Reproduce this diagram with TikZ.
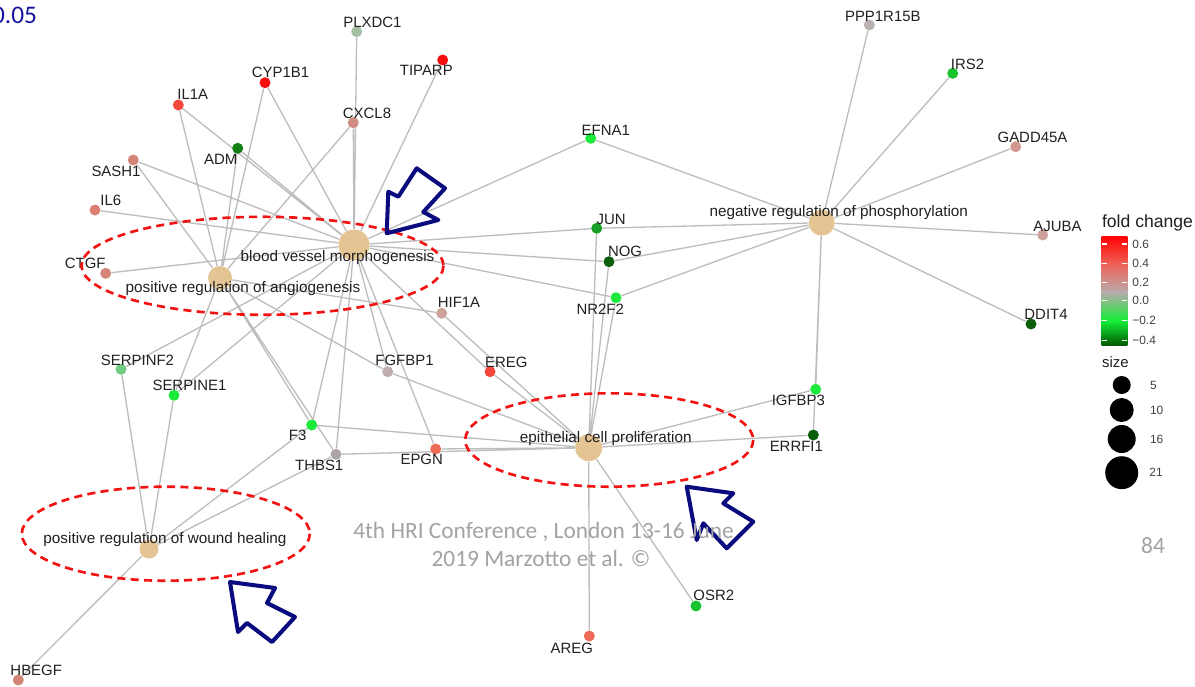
\documentclass[tikz,border=0pt]{standalone}
\usepackage{fontspec}
\setmainfont{Liberation Sans}
\newfontfamily\slidefont{Carlito}

% colours
\definecolor{termtan}{HTML}{E5C494}
\definecolor{linkgrey}{HTML}{BDBDBD}
\definecolor{labelgrey}{HTML}{202020}
\definecolor{ringred}{HTML}{F21212}
\definecolor{navyink}{HTML}{0B0B80}
\definecolor{slidegrey}{HTML}{A3A3A3}
\definecolor{pblue}{HTML}{1414A0}
\definecolor{redhi}{HTML}{F50F0F}
\definecolor{redmd}{HTML}{F3483A}
\definecolor{redlo}{HTML}{EE6A58}
\definecolor{rose}{HTML}{D58478}
\definecolor{rosegrey}{HTML}{CFA19B}
\definecolor{flatgrey}{HTML}{BAB0B0}
\definecolor{sage}{HTML}{A3C0A3}
\definecolor{ltgreen}{HTML}{70CC80}
\definecolor{brightgreen}{HTML}{1BEA3A}
\definecolor{green}{HTML}{18C42E}
\definecolor{midgreen}{HTML}{18A02A}
\definecolor{dkgreen}{HTML}{137F13}
\definecolor{deepgreen}{HTML}{0B5F0B}
% colour bar stops
\definecolor{fctop}{RGB}{255,0,0}
\definecolor{fcsalmon}{RGB}{238,96,86}
\definecolor{fcgrey}{RGB}{184,170,170}
\definecolor{fcgreen}{RGB}{20,238,56}
\definecolor{fcdark}{RGB}{0,90,0}

\pgfdeclarelayer{links}
\pgfsetlayers{links,main}

\tikzset{
  gene/.style={circle, inner sep=0pt, minimum size=0.22cm},
  term/.style={circle, inner sep=0pt, fill=termtan},
  glabel/.style={font=\fontsize{8.5}{10}\selectfont, text=labelgrey, inner sep=0pt},
  tlabel/.style={font=\fontsize{8.7}{10}\selectfont, text=labelgrey, inner sep=0pt},
  link/.style={draw=linkgrey, line width=0.75pt},
  ring/.style={draw=ringred, dash pattern=on 4.6pt off 3pt, line width=1.5pt},
  pointer/.style={draw=navyink, line width=2.3pt, line join=round},
  legtext/.style={font=\fontsize{6.8}{8}\selectfont, text=labelgrey!85, inner sep=0pt},
  slide/.style={font=\slidefont\fontsize{13.3}{15}\selectfont, text=slidegrey, inner sep=0pt}
}

\begin{document}
\begin{tikzpicture}[x=0.02cm, y=-0.02cm]
\useasboundingbox (0,0) rectangle (1195,686);

% GO terms
\node[term, minimum size=0.62cm] (bvm) at (354,245) {};
\node[term, minimum size=0.48cm] (pra) at (220,278) {};
\node[term, minimum size=0.52cm] (nrp) at (821.7,222.7) {};
\node[term, minimum size=0.54cm] (ecp) at (588.7,447.7) {};
\node[term, minimum size=0.38cm] (prw) at (149,549) {};

% genes
\node[gene, fill=sage] (PLXDC1) at (356.7,31.7) {};
\node[gene, fill=redhi] (TIPARP) at (442.7,60) {};
\node[gene, fill=redhi] (CYP1B1) at (265,82.7) {};
\node[gene, fill=redmd] (IL1A) at (178.3,105) {};
\node[gene, fill=rose!85!flatgrey] (CXCL8) at (353.3,122.7) {};
\node[gene, fill=dkgreen] (ADM) at (237.7,148.3) {};
\node[gene, fill=rose] (SASH1) at (133.3,160) {};
\node[gene, fill=rose!80!redlo] (IL6) at (95,210) {};
\node[gene, fill=rose] (CTGF) at (105.7,273.3) {};
\node[gene, fill=rosegrey] (HIF1A) at (441.7,313.3) {};
\node[gene, fill=brightgreen] (EFNA1) at (590.7,138.3) {};
\node[gene, fill=midgreen] (JUN) at (596.7,228.3) {};
\node[gene, fill=deepgreen] (NOG) at (609,261.7) {};
\node[gene, fill=brightgreen] (NR2F2) at (616,297.7) {};
\node[gene, fill=flatgrey] (PPP1R15B) at (869.3,25) {};
\node[gene, fill=green] (IRS2) at (952.7,73.3) {};
\node[gene, fill=rosegrey!70!rose] (GADD45A) at (1015.7,146.7) {};
\node[gene, fill=rosegrey] (AJUBA) at (1042.7,235) {};
\node[gene, fill=deepgreen] (DDIT4) at (1031,324) {};
\node[gene, fill=ltgreen] (SERPINF2) at (121,369.3) {};
\node[gene, fill=brightgreen] (SERPINE1) at (174,395.3) {};
\node[gene, fill=flatgrey!80!rosegrey] (FGFBP1) at (387.7,371.7) {};
\node[gene, fill=brightgreen] (F3) at (311.7,425) {};
\node[gene, fill=flatgrey!80!gray] (THBS1) at (336,454.3) {};
\node[gene, fill=redlo] (EPGN) at (435.7,449) {};
\node[gene, fill=rose] (HBEGF) at (18.3,680) {};
\node[gene, fill=redmd] (EREG) at (490,371.7) {};
\node[gene, fill=brightgreen] (IGFBP3) at (815.7,389.3) {};
\node[gene, fill=deepgreen] (ERRFI1) at (813.3,435) {};
\node[gene, fill=green] (OSR2) at (696,606) {};
\node[gene, fill=redlo] (AREG) at (589.3,636) {};

% links
\begin{pgfonlayer}{links}
\fill[white] (0,0) rectangle (1195,686);
\draw[link] (bvm) -- (PLXDC1) (bvm) -- (CXCL8) (bvm) -- (TIPARP) (bvm) -- (CYP1B1)
  (bvm) -- (IL1A) (bvm) -- (ADM) (bvm) -- (SASH1) (bvm) -- (IL6) (bvm) -- (CTGF)
  (bvm) -- (EFNA1) (bvm) -- (JUN) (bvm) -- (NOG) (bvm) -- (NR2F2) (bvm) -- (EREG)
  (bvm) -- (FGFBP1) (bvm) -- (EPGN) (bvm) -- (F3) (bvm) -- (THBS1)
  (bvm) -- (SERPINE1) (bvm) -- (SERPINF2);
\draw[link] (pra) -- (IL1A) (pra) -- (CYP1B1) (pra) -- (ADM) (pra) -- (CXCL8)
  (pra) -- (SASH1) (pra) -- (SERPINE1) (pra) -- (F3) (pra) -- (THBS1)
  (pra) -- (HIF1A) (pra) -- (FGFBP1);
\draw[link] (ecp) -- (JUN) (ecp) -- (NOG) (ecp) -- (NR2F2) (ecp) -- (HIF1A)
  (ecp) -- (EREG) (ecp) -- (FGFBP1) (ecp) -- (F3) (ecp) -- (THBS1) (ecp) -- (EPGN)
  (ecp) -- (IGFBP3) (ecp) -- (ERRFI1) (ecp) -- (OSR2) (ecp) -- (AREG);
\draw[link] (nrp) -- (EFNA1) (nrp) -- (JUN) (nrp) -- (NOG) (nrp) -- (NR2F2)
  (nrp) -- (PPP1R15B) (nrp) -- (IRS2) (nrp) -- (GADD45A) (nrp) -- (AJUBA)
  (nrp) -- (DDIT4) (nrp) -- (IGFBP3) (nrp) -- (ERRFI1);
\draw[link] (prw) -- (SERPINF2) (prw) -- (SERPINE1) (prw) -- (F3) (prw) -- (THBS1)
  (prw) -- (HBEGF);
\end{pgfonlayer}

% gene labels
\node[glabel] (tPLXDC1) at (372.5,22.7) {PLXDC1};
\node[glabel] (tTIPARP) at (426.3,70) {TIPARP};
\node[glabel] (tCYP1B1) at (280.5,72.7) {CYP1B1};
\node[glabel] (tIL1A) at (192.8,94.3) {IL1A};
\node[glabel] (tCXCL8) at (367,113.3) {CXCL8};
\node[glabel] (tADM) at (220.8,159) {ADM};
\node[glabel] (tSASH1) at (116,171.7) {SASH1};
\node[glabel] (tIL6) at (110.8,200.7) {IL6};
\node[glabel] (tCTGF) at (85.2,263.3) {CTGF};
\node[glabel] (tHIF1A) at (459,302.5) {HIF1A};
\node[glabel] (tEFNA1) at (605.8,130) {EFNA1};
\node[glabel] (tJUN) at (611.2,219) {JUN};
\node[glabel] (tNOG) at (625,251.7) {NOG};
\node[glabel] (tNR2F2) at (600.2,309.3) {NR2F2};
\node[glabel] (tPPP1R15B) at (882.8,16) {PPP1R15B};
\node[glabel] (tIRS2) at (967.5,64.3) {IRS2};
\node[glabel] (tGADD45A) at (1032.5,137.7) {GADD45A};
\node[glabel] (tAJUBA) at (1057.5,226.7) {AJUBA};
\node[glabel] (tDDIT4) at (1046,314.3) {DDIT4};
\node[glabel] (tSERPINF2) at (137.5,360) {SERPINF2};
\node[glabel] (tSERPINE1) at (189.5,385) {SERPINE1};
\node[glabel] (tFGFBP1) at (404.5,360.7) {FGFBP1};
\node[glabel] (tF3) at (297.7,435) {F3};
\node[glabel] (tTHBS1) at (319.2,465.7) {THBS1};
\node[glabel] (tEPGN) at (421.7,459) {EPGN};
\node[glabel] (tHBEGF) at (36.2,670) {HBEGF};
\node[glabel] (tEREG) at (506.3,362.3) {EREG};
\node[glabel] (tIGFBP3) at (798.3,400) {IGFBP3};
\node[glabel] (tERRFI1) at (796.3,446) {ERRFI1};
\node[glabel] (tOSR2) at (713.8,595.7) {OSR2};
\node[glabel] (tAREG) at (571.7,648.3) {AREG};

% term labels
\node[tlabel] (tbvm) at (337.5,257.7) {blood vessel morphogenesis};
\node[tlabel] (tpra) at (243,289) {positive regulation of angiogenesis};
\node[tlabel] (tnrp) at (838.8,212.3) {negative regulation of phosphorylation};
\node[tlabel] (tecp) at (605.8,438.3) {epithelial cell proliferation};
\node[tlabel] (tprw) at (165,539.3) {positive regulation of wound healing};

% dashed rings
\draw[ring] (262.5,265.8) ellipse [x radius=181, y radius=49];
\draw[ring] (609.2,440) ellipse [x radius=144, y radius=46.7];
\draw[ring] (165.8,533.7) ellipse [x radius=144, y radius=47];

% hand drawn arrows
\draw[pointer] (386.7,233.3) -- (388.3,191.7) -- (398.3,196.7) -- (416.7,168.3)
  -- (445,188.3) -- (423.3,212) -- (438.3,220) -- cycle;
\draw[pointer] (686.7,486.7) -- (696.7,540) -- (703.3,523.3) -- (726.7,548.3)
  -- (753.3,521.7) -- (723.3,503.3) -- (733.3,493.3) -- cycle;
\draw[pointer] (230,582) -- (238,632) -- (247,623) -- (272,642)
  -- (295,617) -- (267,603) -- (275,588) -- cycle;

% legend: fold change
\node[font=\fontsize{10}{12}\selectfont, text=labelgrey, inner sep=0pt, anchor=west] (fctitle) at (1101.7,222.7) {fold change};
\shade[top color=fctop, bottom color=fcsalmon] (1101.7,236) rectangle (1127.3,263.3);
\shade[top color=fcsalmon, bottom color=fcgrey] (1101.7,263.3) rectangle (1127.3,292);
\shade[top color=fcgrey, bottom color=fcgreen] (1101.7,292) rectangle (1127.3,320.7);
\shade[top color=fcgreen, bottom color=fcdark] (1101.7,320.7) rectangle (1127.3,345);
\draw[white, line width=0.6pt]
  (1101.7,244) -- +(5,0) (1127.3,244) -- +(-5,0)
  (1101.7,263.3) -- +(5,0) (1127.3,263.3) -- +(-5,0)
  (1101.7,282.7) -- +(5,0) (1127.3,282.7) -- +(-5,0)
  (1101.7,300.7) -- +(5,0) (1127.3,300.7) -- +(-5,0)
  (1101.7,320.7) -- +(5,0) (1127.3,320.7) -- +(-5,0)
  (1101.7,340.7) -- +(5,0) (1127.3,340.7) -- +(-5,0);
\node[legtext, anchor=west] (fc6) at (1132,244) {0.6};
\node[legtext, anchor=west] (fc4) at (1132,263.3) {0.4};
\node[legtext, anchor=west] (fc2) at (1132,282.7) {0.2};
\node[legtext, anchor=west] (fc0) at (1132,300.7) {0.0};
\node[legtext, anchor=west] (fcm2) at (1132,320.7) {−0.2};
\node[legtext, anchor=west] (fcm4) at (1132,340.7) {−0.4};

% legend: size
\node[font=\fontsize{8.5}{10}\selectfont, text=labelgrey, inner sep=0pt, anchor=west] (sztitle) at (1101.7,361.7) {size};
\node[circle, fill=black, inner sep=0pt, minimum size=0.36cm] (s5) at (1121.7,385) {};
\node[circle, fill=black, inner sep=0pt, minimum size=0.48cm] (s10) at (1121.7,410) {};
\node[circle, fill=black, inner sep=0pt, minimum size=0.56cm] (s16) at (1121.7,439) {};
\node[circle, fill=black, inner sep=0pt, minimum size=0.66cm] (s21) at (1121.7,472.7) {};
\node[legtext] (n5) at (1153.3,385) {5};
\node[legtext] (n10) at (1156.7,410) {10};
\node[legtext] (n16) at (1156.7,439) {16};
\node[legtext] (n21) at (1156,472.7) {21};

% slide texts
\node[font=\slidefont\fontsize{14.4}{16}\selectfont, text=pblue, inner sep=0pt, anchor=east] (pval) at (37.3,15.3) {0.05};
\node[slide] (conf) at (543.5,532) {4th HRI Conference , London 13-16 June};
\node[slide] (auth) at (541,558) {2019 Marzotto et al. ©};
\node[slide] (page) at (1153,546) {84};
\end{tikzpicture}
\end{document}
